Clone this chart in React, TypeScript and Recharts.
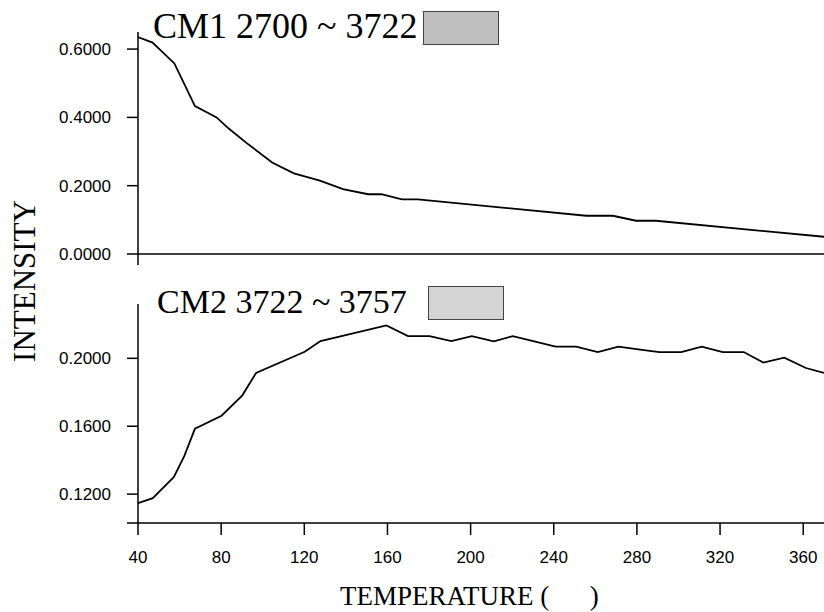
import React from 'react';
import { LineChart, Line, XAxis, YAxis } from 'recharts';

// CM1 (2700 ~ 3722) series: temperature and intensity
const cm1Temps = [40, 47, 57.5, 67.4, 77.8, 83.5, 92, 104.5, 115, 127.5, 138.6, 150.7, 157, 167, 174.6, 255.6, 268.4, 279.6, 289.2, 370];
const cm1Values = [0.635, 0.619, 0.558, 0.433, 0.4, 0.368, 0.326, 0.268, 0.236, 0.215, 0.19, 0.175, 0.175, 0.16, 0.16, 0.112, 0.112, 0.0974, 0.0974, 0.0505];

// CM2 (3722 ~ 3757) series
const cm2Temps = [40, 47.1, 57.2, 62.3, 67.4, 80.2, 90.2, 96.8, 120.2, 127.8, 159.5, 169.9, 180.3, 190.7, 200.6, 211.2, 220.3, 240.9, 250.8, 261.2, 271.1, 280.7, 290.8, 301.3, 311.2, 321.3, 331.4, 340.8, 350.9, 361.3, 370];
const cm2Values = [0.1147, 0.1176, 0.13, 0.1425, 0.1586, 0.1662, 0.1782, 0.1914, 0.2039, 0.2102, 0.2194, 0.2131, 0.2131, 0.2102, 0.2131, 0.21, 0.2131, 0.2069, 0.2069, 0.2037, 0.2069, 0.2053, 0.2037, 0.2037, 0.2069, 0.2037, 0.2037, 0.1975, 0.2004, 0.1943, 0.1914];

const xTicks = [40, 80, 120, 160, 200, 240, 280, 320, 360];
const cm1YTicks = [0, 0.2, 0.4, 0.6];
const cm2YTicks = [0.103, 0.12, 0.16, 0.2];

const title1 = 'CM1 2700 ~ 3722';
const title2 = 'CM2 3722 ~ 3757';
const yLabel = 'INTENSITY';
const xLabel = 'TEMPERATURE (      )';

const cm1Data = cm1Temps.map((t, i) => ({ t, v: cm1Values[i] }));
const cm2Data = cm2Temps.map((t, i) => ({ t, v: cm2Values[i] }));

const sans = '"Liberation Sans", Arial, sans-serif';
const tickStyle = { fontFamily: sans, fontSize: 17, fill: '#000', style: { fontSize: 17, fontFamily: sans } };
const axisLine = { stroke: '#000', strokeWidth: 1.5 };
const serif = '"Liberation Serif", "Times New Roman", serif';

export default function App() {
  return (
    <div style={{ position: 'absolute', left: 0, top: 0, width: 824, height: 612, background: '#fff', overflow: 'hidden' }}>
      <div style={{ position: 'absolute', left: 0, top: 0 }}>
        <LineChart width={824} height={270} data={cm1Data} margin={{ top: 32, right: 0, bottom: 0, left: 0 }}>
          <XAxis
            dataKey="t"
            type="number"
            domain={[40, 370]}
            ticks={[40]}
            tickSize={11}
            tickFormatter={() => ''}
            height={16}
            axisLine={axisLine}
            tickLine={axisLine}
            allowDataOverflow
          />
          <YAxis
            type="number"
            domain={[0, 0.65]}
            ticks={cm1YTicks}
            tickFormatter={(v: number) => v.toFixed(4)}
            width={138}
            tickSize={11}
            tickMargin={16}
            fontSize={17}
            tick={tickStyle}
            axisLine={axisLine}
            tickLine={axisLine}
            allowDataOverflow
          />
          <Line dataKey="v" type="linear" stroke="#000" strokeWidth={1.8} dot={false} activeDot={false} isAnimationActive={false} />
        </LineChart>
      </div>
      <div style={{ position: 'absolute', left: 0, top: 270 }}>
        <LineChart width={824} height={342} data={cm2Data} margin={{ top: 34, right: 0, bottom: 0, left: 0 }}>
          <XAxis
            dataKey="t"
            type="number"
            domain={[40, 370]}
            ticks={xTicks}
            tickSize={12}
            tickMargin={16}
            height={89}
            fontSize={17}
            tick={tickStyle}
            axisLine={axisLine}
            tickLine={axisLine}
            allowDataOverflow
          />
          <YAxis
            type="number"
            domain={[0.103, 0.232]}
            ticks={cm2YTicks}
            tickFormatter={(v: number) => (v < 0.11 ? '' : v.toFixed(4))}
            width={138}
            tickSize={11}
            tickMargin={16}
            fontSize={17}
            tick={tickStyle}
            axisLine={axisLine}
            tickLine={axisLine}
            allowDataOverflow
          />
          <Line dataKey="v" type="linear" stroke="#000" strokeWidth={1.8} dot={false} activeDot={false} isAnimationActive={false} />
        </LineChart>
      </div>
      <svg width={824} height={612} style={{ position: 'absolute', left: 0, top: 0, pointerEvents: 'none' }}>
        <text x={153} y={38} fontFamily={serif} fontSize={36} fill="#000">{title1}</text>
        <rect x={423.5} y={11.5} width={75} height={33} fill="#bfbfbf" stroke="#444" strokeWidth={1} />
        <text x={157} y={313} fontFamily={serif} fontSize={34} fill="#000">{title2}</text>
        <rect x={428.5} y={286.5} width={75} height={33} fill="#d4d4d4" stroke="#444" strokeWidth={1} />
        <text x={35} y={281} transform="rotate(-90, 35, 281)" textAnchor="middle" fontFamily={serif} fontSize={31} fill="#000">{yLabel}</text>
        <text x={340} y={605} fontFamily={serif} fontSize={27} fill="#000" style={{ whiteSpace: 'pre' }}>{xLabel}</text>
      </svg>
    </div>
  );
}
